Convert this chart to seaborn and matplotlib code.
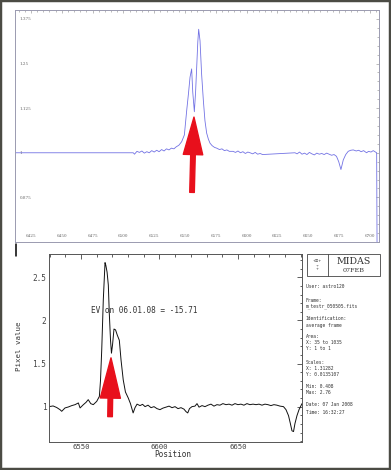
import matplotlib
matplotlib.use("Agg")
import matplotlib.pyplot as plt
import seaborn as sns
import pandas as pd
from matplotlib.ticker import MultipleLocator
from matplotlib.patches import Rectangle
from matplotlib.lines import Line2D

# ---------------- data ----------------
top_wave = [6412, 6508, 6509, 6511, 6513, 6515, 6517, 6519, 6521, 6523, 6525, 6527, 6529,
            6531, 6533, 6535, 6537, 6539, 6541, 6543, 6545, 6547.3, 6549.5, 6551.4, 6552.8,
            6554.1, 6555.4, 6556.3, 6557.6, 6558.6, 6559.5, 6560.4, 6561.1, 6562.2, 6563.5,
            6564.9, 6566.2, 6567.6, 6569, 6570.3, 6572, 6574, 6575.7, 6578, 6580, 6582, 6584,
            6586, 6589, 6591, 6593, 6595, 6597, 6599, 6601, 6602.8, 6605, 6607, 6609, 6611,
            6613, 6639.3, 6641, 6643, 6645, 6647, 6649, 6651, 6653, 6655, 6657, 6659, 6661,
            6663, 6665, 6667, 6669, 6671, 6673, 6674.8, 6676.6, 6678.5, 6680.5, 6682.5, 6684.5,
            6686.6, 6689, 6691, 6693, 6695, 6697.4, 6699, 6701, 6702.8, 6705.6, 6706.2]
top_flux = [1.0, 1.0, 0.996, 1.004, 1.001, 1.005, 0.999, 1.003, 1.0, 1.006, 1.002, 1.007, 1.003,
            1.009, 1.005, 1.011, 1.008, 1.013, 1.011, 1.017, 1.021, 1.031, 1.05, 1.119, 1.165,
            1.212, 1.235, 1.17, 1.115, 1.17, 1.24, 1.31, 1.346, 1.314, 1.22,
            1.147, 1.09, 1.055, 1.038, 1.027, 1.02, 1.015, 1.013, 1.009, 1.011, 1.006, 1.008,
            1.004, 1.004, 1.001, 1.005, 1.0, 1.003, 0.998, 1.002, 1.0, 0.997, 1.001, 0.996, 0.998,
            0.995, 1.0, 0.997, 1.002, 0.996, 0.999, 0.995, 1.001, 0.997, 0.994, 0.999, 0.996, 0.998,
            0.995, 0.999, 0.996, 0.993, 0.995, 0.99, 0.975, 0.953, 0.98, 0.995, 1.004, 1.007,
            1.008, 1.005, 1.007, 1.003, 1.006, 1.0, 1.004, 1.002, 1.006, 1.0, 0.5]

bot_wave = [6529.6, 6532.2, 6534.5, 6536.6, 6537.7, 6539.8, 6541.9, 6544.1, 6546.2, 6548.3,
            6549.4, 6551.5, 6553.2, 6554.6, 6556.2, 6557.8, 6560.0, 6561.7, 6562.4, 6563.2,
            6564.2, 6565.3, 6565.8, 6566.6, 6567.4, 6568.0, 6568.8, 6569.4, 6570.1, 6571.0,
            6572.0, 6573.1, 6574.4, 6575.5, 6576.9, 6578.3, 6580.1, 6581.5, 6583.2, 6584.4,
            6585.7, 6587.6, 6589.2, 6590.8, 6592.7, 6594.6, 6596.5, 6598.4, 6600.3, 6602.2,
            6604.1, 6606.1, 6608.0, 6609.9, 6611.8, 6613.7, 6615.6, 6616.9, 6618.0, 6619.1,
            6620.7, 6622.6, 6623.9, 6625.2, 6627.1, 6629.0, 6630.9, 6632.8, 6634.7, 6636.6,
            6638.5, 6640.4, 6642.4, 6644.3, 6646.2, 6648.1, 6650.0, 6651.9, 6653.8, 6655.7,
            6657.6, 6659.6, 6661.5, 6663.4, 6665.3, 6667.2, 6669.1, 6671.0, 6672.9, 6674.8,
            6676.8, 6679.0, 6680.6, 6682.2, 6683.4, 6684.4, 6685.4, 6686.3, 6687.6, 6688.9,
            6690.8]
bot_flux = [1.0, 1.008, 0.99, 0.965, 0.946, 0.985, 0.996, 1.012, 1.023, 1.043,
            0.985, 1.023, 1.05, 1.081, 1.035, 1.023, 1.061, 1.119, 1.3, 1.66,
            2.24, 2.67, 2.64, 2.56, 2.41, 2.09, 1.77, 1.62, 1.72, 1.90,
            1.89, 1.83, 1.77, 1.54, 1.31, 1.17, 1.10, 1.035, 0.927, 0.988,
            1.029, 1.012, 1.027, 1.0, 1.017, 0.988, 1.0, 0.977, 0.965, 0.983,
            0.994, 1.006, 0.988, 1.0, 0.977, 0.988, 0.971, 0.942, 0.927, 0.977,
            1.0, 1.006, 1.035, 0.994, 1.012, 1.0, 1.017, 1.029, 1.006, 1.023,
            1.017, 1.035, 1.023, 1.029, 1.017, 1.035, 1.023, 1.029, 1.017, 1.035,
            1.023, 1.029, 1.023, 1.029, 1.017, 1.029, 1.023, 1.012, 1.023, 1.017,
            1.006, 1.0, 0.965, 0.896, 0.803, 0.72, 0.711, 0.803, 0.896, 0.965,
            1.035]

top_xticks = [6425, 6450, 6475, 6500, 6525, 6550, 6575, 6600, 6625, 6650, 6675, 6700]
top_yticks = [0.875, 1.0, 1.125, 1.25, 1.375]
top_ylabels = ["0.875", "1", "1.125", "1.25", "1.375"]
bot_xticks = [6550, 6600, 6650]
bot_yticks = [1.0, 1.5, 2.0, 2.5]
bot_ylabels = ["1", "1.5", "2", "2.5"]

ev_text = "EV on 06.01.08 = -15.71"
side_lines = ["User: astro120", "Frame:", "m_testr_050505.fits", "Identification:",
              "average frame", "Area:", "X: 35 to 1035", "Y: 1 to 1", "Scales:",
              "X: 1.31282", "Y: 0.0135107", "Min: 0.408", "Max: 2.76",
              "Date: 07 Jan 2008", "Time: 16:32:27"]
side_rows = [287, 300, 306, 319, 325, 337, 343, 349, 362, 368, 375, 387, 393, 405, 412]

# ---------------- figure ----------------
sns.set_theme(style="white")
plt.rcParams["font.family"] = ["DejaVu Sans"]

W, H = 391, 470
fig = plt.figure(figsize=(W / 100, H / 100), dpi=100)
fig.patch.set_facecolor("white")


def fx(px):
    return px / W


def fy(py):
    return 1 - py / H


MONO = "DejaVu Sans Mono"
RED = "#e8101c"

# ---- top panel ----
ax1 = fig.add_axes([fx(15), fy(242), (379 - 15) / W, (242 - 10) / H])
df_top = pd.DataFrame({"wave": top_wave, "flux": top_flux})
sns.lineplot(data=df_top, x="wave", y="flux", ax=ax1, color="#7272e4", lw=0.6,
             estimator=None, sort=False)
ax1.set_xlim(6412, 6707.5)
ax1.set_ylim(0.75, 1.4)
ax1.set_xlabel("")
ax1.set_ylabel("")
ax1.set_xticks(top_xticks)
ax1.set_xticklabels([str(t) for t in top_xticks], family="DejaVu Serif", fontsize=3,
                    color="#666666")
ax1.set_yticks(top_yticks)
ax1.set_yticklabels(top_ylabels, family="DejaVu Serif", fontsize=3, color="#666666",
                    ha="left")
ax1.xaxis.set_minor_locator(MultipleLocator(5))
ax1.yaxis.set_minor_locator(MultipleLocator(0.025))
ax1.tick_params(axis="both", which="both", direction="in", top=True, right=True,
                color="#888888", width=0.4)
ax1.tick_params(axis="both", which="major", length=2.5)
ax1.tick_params(axis="both", which="minor", length=1.2)
ax1.tick_params(axis="x", which="major", pad=-5.5)
ax1.tick_params(axis="y", which="major", pad=-3.5)
for s in ax1.spines.values():
    s.set_color("#9a9ab0")
    s.set_linewidth(0.7)
ax1.annotate("", xy=(6557.3, 1.10), xytext=(6555.7, 0.889),
             arrowprops=dict(arrowstyle="simple,head_length=2.7,head_width=1.4,tail_width=0.33",
                             color=RED, shrinkA=0, shrinkB=0, mutation_scale=10))

# ---- bottom panel ----
ax2 = fig.add_axes([fx(49), fy(442), (302 - 49) / W, (442 - 254) / H])
df_bot = pd.DataFrame({"wave": bot_wave, "flux": bot_flux})
sns.lineplot(data=df_bot, x="wave", y="flux", ax=ax2, color="#111111", lw=0.7,
             estimator=None, sort=False)
ax2.set_xlim(6529.6, 6690.8)
ax2.set_ylim(0.59, 2.77)
ax2.set_xticks(bot_xticks)
ax2.set_xticklabels([str(t) for t in bot_xticks], family=MONO, fontsize=5.2, color="#444444")
ax2.set_yticks(bot_yticks)
ax2.set_yticklabels(bot_ylabels, family=MONO, fontsize=5.6, color="#444444")
ax2.xaxis.set_minor_locator(MultipleLocator(10))
ax2.yaxis.set_minor_locator(MultipleLocator(0.1))
ax2.tick_params(axis="both", which="both", direction="in", top=True, right=True,
                color="#444444", width=0.6)
ax2.tick_params(axis="both", which="major", length=3.5, pad=2)
ax2.tick_params(axis="both", which="minor", length=1.8)
ax2.tick_params(axis="x", which="major", pad=1.5)
for s in ax2.spines.values():
    s.set_color("#555555")
    s.set_linewidth(0.7)
ax2.set_xlabel("Position", family=MONO, fontsize=5.6, color="#333333")
ax2.set_ylabel("Pixel value", family=MONO, fontsize=5.3, color="#333333")
ax2.xaxis.set_label_coords((173 - 49) / 253, -0.045)
ax2.yaxis.set_label_coords(-0.105, 0.51)
ax2.text(6556.4, 2.11, ev_text, family=MONO, fontsize=5.6, color="#333333", va="center")
ax2.annotate("", xy=(6569.1, 1.566), xytext=(6568.5, 0.884),
             arrowprops=dict(arrowstyle="simple,head_length=2.9,head_width=1.45,tail_width=0.33",
                             color=RED, shrinkA=0, shrinkB=0, mutation_scale=10))

# ---- sidebar ----
fig.add_artist(Rectangle((fx(307), fy(276)), (380 - 307) / W, (276 - 254) / H,
                         transform=fig.transFigure, fill=False, edgecolor="#444444", lw=0.6))
fig.add_artist(Line2D([fx(328), fx(328)], [fy(254), fy(276)], transform=fig.transFigure,
                      color="#444444", lw=0.6))
fig.text(fx(354), fy(261.5), "MIDAS", family="DejaVu Serif", fontsize=6.8, color="#333333",
         ha="center", va="center")
fig.text(fx(354), fy(271), "07FEB", family="DejaVu Serif", fontsize=4.6, color="#333333",
         ha="center", va="center")
fig.text(fx(317.5), fy(265), "+\u2630+\n\u00f7\n+", family="DejaVu Sans", fontsize=2.6,
         color="#333333", ha="center", va="center", linespacing=0.9)
for line, row in zip(side_lines, side_rows):
    fig.text(fx(306), fy(row), line, family=MONO, fontsize=3.3, color="#333333",
             ha="left", va="center")

# ---- misc frame decorations ----
fig.add_artist(Line2D([fx(15.5), fx(15.5)], [fy(244), fy(256)], transform=fig.transFigure,
                      color="black", lw=1.1))
fig.add_artist(Rectangle((0, 0), 1, 1, transform=fig.transFigure, fill=False,
                         edgecolor="#4b4b44", lw=3.2))

fig.savefig("out.png", dpi=100)
